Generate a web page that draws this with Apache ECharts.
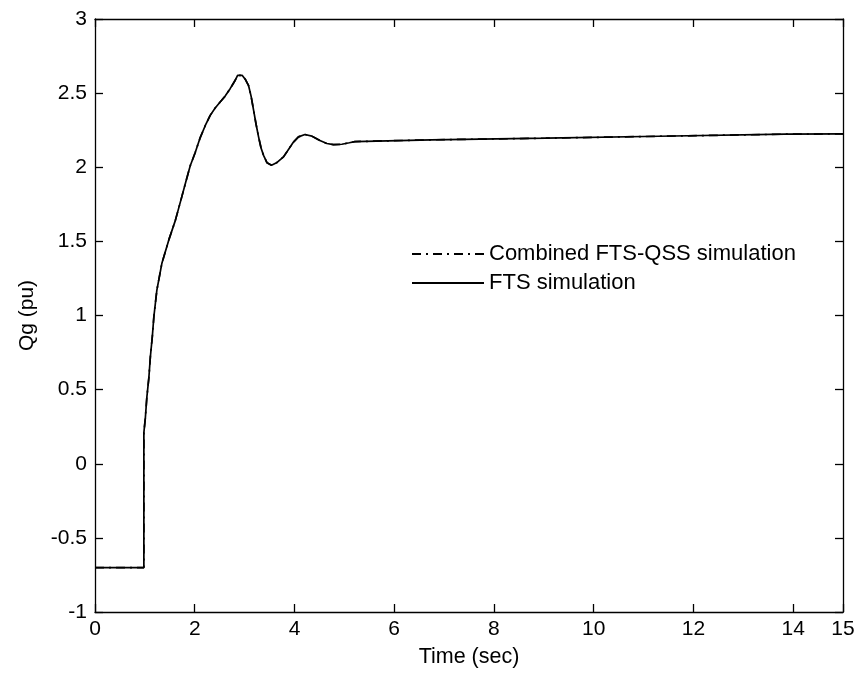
<!DOCTYPE html>
<html>
<head>
<meta charset="utf-8">
<script src="https://cdn.jsdelivr.net/npm/echarts@6/dist/echarts.min.js"></script>
<style>
html,body{margin:0;padding:0;background:#fff;}
#chart{width:858px;height:677px;}
</style>
</head>
<body>
<div id="chart"></div>
<script>
// Time axis (sec)
const timeSec = [0, 0.98, 0.98, 1.01, 1.04, 1.08, 1.11, 1.15, 1.18, 1.24, 1.34, 1.48, 1.61, 1.74, 1.82, 1.91, 2.01, 2.11, 2.21, 2.31, 2.41, 2.51, 2.61, 2.71, 2.80, 2.86, 2.90, 2.95, 3.02, 3.08, 3.13, 3.18, 3.23, 3.28, 3.33, 3.38, 3.45, 3.54, 3.64, 3.78, 3.88, 3.98, 4.08, 4.21, 4.35, 4.51, 4.65, 4.78, 4.95, 5.10, 5.21, 6.74, 9.04, 11.31, 13.84, 15];
// FTS simulation Qg (pu)
const ftsQg = [-0.70, -0.70, 0.21, 0.31, 0.45, 0.58, 0.72, 0.86, 0.99, 1.17, 1.35, 1.51, 1.64, 1.80, 1.90, 2.01, 2.10, 2.20, 2.28, 2.35, 2.40, 2.44, 2.48, 2.53, 2.58, 2.62, 2.63, 2.62, 2.59, 2.55, 2.48, 2.385, 2.29, 2.205, 2.13, 2.08, 2.03, 2.014, 2.03, 2.07, 2.12, 2.17, 2.205, 2.221, 2.21, 2.18, 2.16, 2.153, 2.155, 2.165, 2.173, 2.185, 2.196, 2.209, 2.223, 2.225];
// Combined FTS-QSS simulation Qg (pu) (coincides with FTS)
const combinedQg = [-0.70, -0.70, 0.21, 0.31, 0.45, 0.58, 0.72, 0.86, 0.99, 1.17, 1.35, 1.51, 1.64, 1.80, 1.90, 2.01, 2.10, 2.20, 2.28, 2.35, 2.40, 2.44, 2.48, 2.53, 2.58, 2.62, 2.63, 2.62, 2.59, 2.55, 2.48, 2.385, 2.29, 2.205, 2.13, 2.08, 2.03, 2.014, 2.03, 2.07, 2.12, 2.17, 2.205, 2.221, 2.21, 2.18, 2.16, 2.153, 2.155, 2.165, 2.173, 2.185, 2.196, 2.209, 2.223, 2.225];
const seriesNames = ['Combined FTS-QSS simulation', 'FTS simulation'];
const xTitle = 'Time (sec)';
const yTitle = 'Qg (pu)';

const font = 'Liberation Sans, Arial, Helvetica, sans-serif';
const pairs = (xs, ys) => xs.map((x, i) => [x, ys[i]]);

const chart = echarts.init(document.getElementById('chart'), null, {renderer: 'canvas'});
const axisLine = {show: true, onZero: false, lineStyle: {color: '#000', width: 1.3}};
const tick = {show: true, inside: true, length: 8, lineStyle: {color: '#000', width: 1.3}};
chart.setOption({
  animation: false,
  backgroundColor: '#fff',
  grid: {left: 95, right: 15, top: 19, bottom: 65, containLabel: false},
  legend: {
    orient: 'vertical', left: 406, top: 238,
    itemWidth: 72, itemHeight: 16, itemGap: 7,
    data: seriesNames,
    itemStyle: {opacity: 0},
    textStyle: {fontFamily: font, fontSize: 22, color: '#000'}
  },
  xAxis: [{
    type: 'value', min: 0, max: 15, interval: 2, position: 'bottom',
    name: xTitle, nameLocation: 'middle', nameGap: 34,
    nameTextStyle: {fontFamily: font, fontSize: 21.5, color: '#000'},
    axisLine: axisLine, axisTick: tick, splitLine: {show: false},
    axisLabel: {fontFamily: font, fontSize: 21, color: '#000', margin: 7}
  }, {
    type: 'value', min: 0, max: 15, interval: 2, position: 'top',
    axisLine: axisLine, axisTick: tick, splitLine: {show: false},
    axisLabel: {show: false}
  }],
  yAxis: [{
    type: 'value', min: -1, max: 3, interval: 0.5, position: 'left',
    name: yTitle, nameLocation: 'middle', nameGap: 57, nameRotate: 90,
    nameTextStyle: {fontFamily: font, fontSize: 21, color: '#000'},
    axisLine: axisLine, axisTick: tick, splitLine: {show: false},
    axisLabel: {fontFamily: font, fontSize: 21, color: '#000', margin: 8}
  }, {
    type: 'value', min: -1, max: 3, interval: 0.5, position: 'right',
    axisLine: axisLine, axisTick: tick, splitLine: {show: false},
    axisLabel: {show: false}
  }],
  series: [{
    name: seriesNames[0], type: 'line', symbol: 'none', showSymbol: false,
    data: pairs(timeSec, combinedQg),
    lineStyle: {color: '#000', width: 1.7, type: [9, 5, 2, 5]},
    itemStyle: {color: '#000'}
  }, {
    name: seriesNames[1], type: 'line', symbol: 'none', showSymbol: false,
    data: pairs(timeSec, ftsQg),
    lineStyle: {color: '#000', width: 1.7, type: 'solid'},
    itemStyle: {color: '#000'}
  }]
});
</script>
</body>
</html>
